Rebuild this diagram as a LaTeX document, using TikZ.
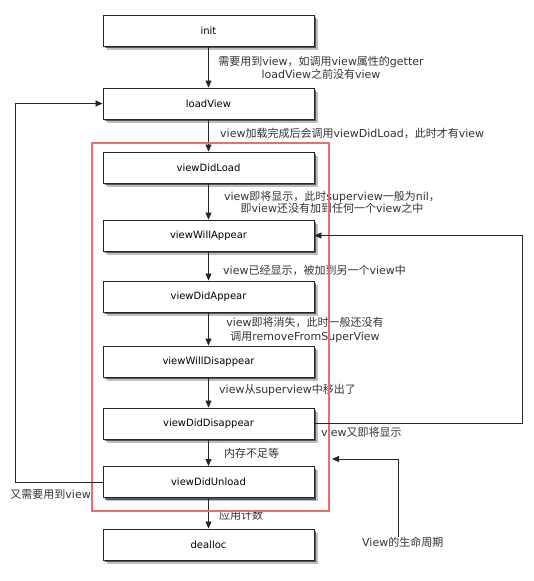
\documentclass[tikz,border=0pt]{standalone}
\usepackage{fontspec}
\setmainfont{DejaVu Sans}
\newfontfamily\cjkfont{Noto Sans CJK SC}
\usetikzlibrary{arrows.meta,shadows}
\newcommand\zh[1]{{\cjkfont #1}}
\definecolor{framered}{RGB}{226,112,108}
\tikzset{
  box/.style={draw=black!85, line width=0.9pt, fill=white, minimum width=211pt, minimum height=31pt,
    inner sep=0pt, font=\fontsize{10}{12}\selectfont,
    drop shadow={shadow xshift=3.5pt, shadow yshift=-3.5pt, opacity=0.25, fill=black},
    drop shadow={shadow xshift=2pt, shadow yshift=-2pt, opacity=0.55, fill=black}},
  lbl/.style={font=\fontsize{11}{13}\selectfont, text=black!80, inner sep=0pt, align=center},
  arr/.style={draw=black!85, line width=0.8pt, -{Triangle[length=7pt,width=6pt]}},
  redframe/.style={draw=framered, line width=1.2pt}
}
\begin{document}
\begin{tikzpicture}[x=1pt,y=-1pt]
\useasboundingbox (0,0) rectangle (533,581);
% boxes
\node[box] (init) at (208.5,30.5) {init};
\node[box] (load) at (208.5,103.5) {loadView};
\node[box] (didload) at (208.5,167.5) {viewDidLoad};
\node[box] (willapp) at (208.5,235.5) {viewWillAppear};
\node[box] (didapp) at (208.5,296.5) {viewDidAppear};
\node[box] (willdis) at (208.5,361.5) {viewWillDisappear};
\node[box] (diddis) at (208.5,423.5) {viewDidDisappear};
\node[box] (unload) at (208.5,482) {viewDidUnload};
\node[box] (dealloc) at (208.5,544.5) {dealloc};
% vertical arrows
\draw[arr] (init.south) -- (load.north);
\draw[arr] (load.south) -- (didload.north);
\draw[arr] (didload.south) -- (willapp.north);
\draw[arr] (willapp.south) -- (didapp.north);
\draw[arr] (didapp.south) -- (willdis.north);
\draw[arr] (willdis.south) -- (diddis.north);
\draw[arr] (diddis.south) -- (unload.north);
\draw[arr] (unload.south) -- (dealloc.north);
% labels
\node[lbl] (l1) at (321,67.5) {\zh{需要用到}view\zh{，如调用}view\zh{属性的}getter\\loadView\zh{之前没有}view};
\node[lbl, anchor=west] (l2) at (220,133) {view\zh{加载完成后会调用}viewDidLoad\zh{，此时才有}view};
\node[lbl, font=\fontsize{11}{12}\selectfont] (l3) at (332,202.5) {view\zh{即将显示，此时}superview\zh{一般为}nil\zh{，}\\\zh{即}view\zh{还没有加到任何一个}view\zh{之中}};
\node[lbl, anchor=west] (l4) at (223,270) {view\zh{已经显示，被加到另一个}view\zh{中}};
\node[lbl, font=\fontsize{11}{13.5}\selectfont] (l5) at (305,330) {view\zh{即将消失，此时一般还没有}\\\zh{调用}removeFromSuperView};
\node[lbl, anchor=west] (l6) at (219,390) {view\zh{从}superview\zh{中移出了}};
\node[lbl, anchor=west] (l7) at (321,432) {view\zh{又即将显示}};
\node[lbl, anchor=west] (l8) at (224,453) {\zh{内存不足等}};
\node[lbl, anchor=east] (l9) at (91,494) {\zh{又需要用到}view};
\node[lbl, anchor=west] (l10) at (219,515) {\zh{应用计数}};
\node[lbl, anchor=west] (life) at (362,542) {View\zh{的生命周期}};
% red frame
\coordinate (r1) at (92,143);
\coordinate (r2) at (329,511);
\draw[redframe] (r1) rectangle (r2);
% loops
\coordinate (ll) at (15,0);
\coordinate (rr) at (522,0);
\coordinate (lc) at (398,459);
\draw[arr] (unload.west) -- (unload.west -| ll) |- (load.west);
\draw[arr] (diddis.east) -- (diddis.east -| rr) |- (willapp.east);
\draw[arr] (lc |- life.north) -- (lc) -- ([xshift=3pt]r2 |- lc);
\end{tikzpicture}
\end{document}
